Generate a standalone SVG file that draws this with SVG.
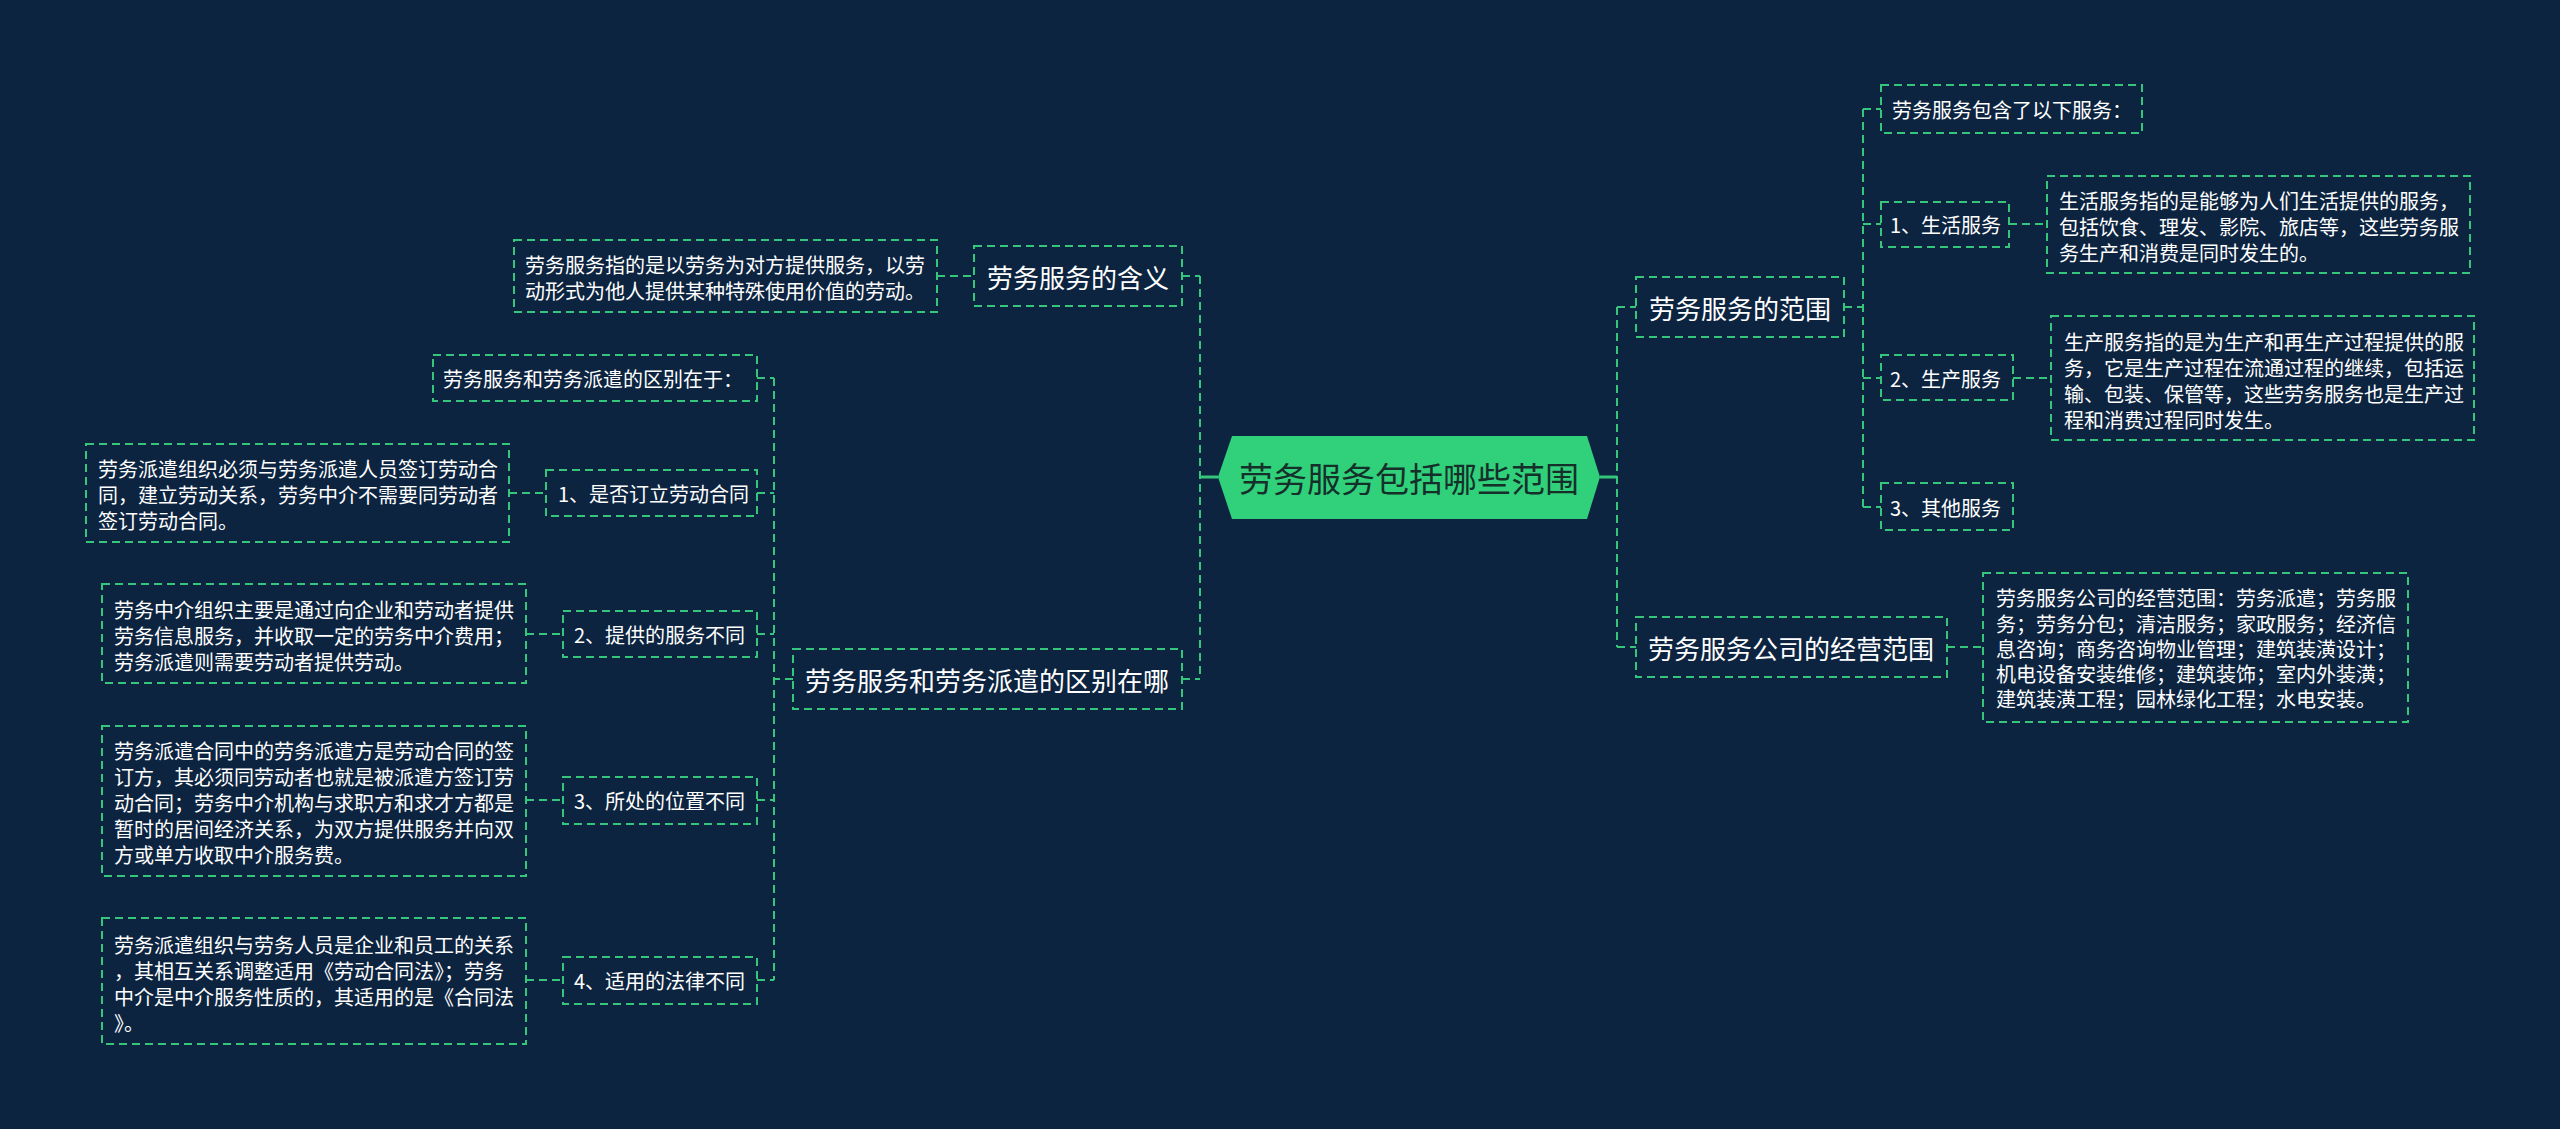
<svg xmlns="http://www.w3.org/2000/svg" width="2560" height="1129" viewBox="0 0 2560 1129">
<style>
.bg{fill:#0c2440}
.box{fill:none;stroke:#35c67c;stroke-width:2;stroke-dasharray:8 5}
.ln{fill:none;stroke:#35c67c;stroke-width:2;stroke-dasharray:8 5}
.sl{fill:none;stroke:#35c67c;stroke-width:3}
.t{font-family:"Noto Sans CJK SC","Noto Sans",sans-serif;fill:#ffffff;dominant-baseline:central}
.s20{font-size:20px}
.s26{font-size:26px}
.mid{text-anchor:middle}
</style>
<rect class="bg" x="0" y="0" width="2560" height="1129"/>

<g id="connectors">
  <path class="sl" d="M1218,477 H1200"/>
  <path class="ln" d="M1200,276 V679 M1182,276 H1200 M1182,679 H1200"/>
  <path class="ln" d="M937,276 H974"/>
  <path class="ln" d="M793,679 H774 M774,378 V980 M757,378 H774 M757,493 H774 M757,634 H774 M757,800 H774 M757,980 H774"/>
  <path class="ln" d="M509,493 H546 M526,634 H563 M526,800 H563 M526,980 H563"/>
  <path class="sl" d="M1600,477 H1617"/>
  <path class="ln" d="M1617,307 V647 M1617,307 H1636 M1617,647 H1636"/>
  <path class="ln" d="M1844,307 H1863 M1863,109 V507 M1863,109 H1881 M1863,224 H1881 M1863,378 H1881 M1863,507 H1881"/>
  <path class="ln" d="M2009,224 H2047 M2013,378 H2051 M1947,647 H1983"/>
</g>

<g id="root">
  <polygon points="1218,477 1232,436 1587,436 1600,477 1587,519 1232,519" fill="#31d07b"/>
  <text class="t mid" x="1409" y="477" style="font-size:34px;fill:#15302a">劳务服务包括哪些范围</text>
</g>

<g id="n_hanyi">
  <rect class="box" x="974" y="246" width="208" height="60"/>
  <text class="t s26 mid" x="1078" y="276">劳务服务的含义</text>
</g>
<g id="leaf_def">
  <rect class="box" x="514" y="240" width="423" height="72"/>
  <text class="t s20" x="525" y="264">劳务服务指的是以劳务为对方提供服务，以劳</text>
  <text class="t s20" x="525" y="290">动形式为他人提供某种特殊使用价值的劳动。</text>
</g>

<g id="n_quyu_main">
  <rect class="box" x="793" y="649" width="389" height="60"/>
  <text class="t s26 mid" x="987" y="679">劳务服务和劳务派遣的区别在哪</text>
</g>
<g id="n_quyu">
  <rect class="box" x="433" y="355" width="324" height="46"/>
  <text class="t s20" x="443" y="378">劳务服务和劳务派遣的区别在于：</text>
</g>

<g id="n1">
  <rect class="box" x="546" y="470" width="211" height="46"/>
  <text class="t s20" x="558" y="493">1、是否订立劳动合同</text>
</g>
<g id="leaf1">
  <rect class="box" x="86" y="444" width="423" height="98"/>
  <text class="t s20" x="98" y="468">劳务派遣组织必须与劳务派遣人员签订劳动合</text>
  <text class="t s20" x="98" y="494">同，建立劳动关系，劳务中介不需要同劳动者</text>
  <text class="t s20" x="98" y="520">签订劳动合同。</text>
</g>

<g id="n2">
  <rect class="box" x="563" y="611" width="194" height="46"/>
  <text class="t s20" x="574" y="634">2、提供的服务不同</text>
</g>
<g id="leaf2">
  <rect class="box" x="102" y="584" width="424" height="99"/>
  <text class="t s20" x="114" y="609">劳务中介组织主要是通过向企业和劳动者提供</text>
  <text class="t s20" x="114" y="635">劳务信息服务，并收取一定的劳务中介费用；</text>
  <text class="t s20" x="114" y="661">劳务派遣则需要劳动者提供劳动。</text>
</g>

<g id="n3">
  <rect class="box" x="563" y="777" width="194" height="47"/>
  <text class="t s20" x="574" y="800">3、所处的位置不同</text>
</g>
<g id="leaf3">
  <rect class="box" x="102" y="726" width="424" height="150"/>
  <text class="t s20" x="114" y="750">劳务派遣合同中的劳务派遣方是劳动合同的签</text>
  <text class="t s20" x="114" y="776">订方，其必须同劳动者也就是被派遣方签订劳</text>
  <text class="t s20" x="114" y="802">动合同；劳务中介机构与求职方和求才方都是</text>
  <text class="t s20" x="114" y="828">暂时的居间经济关系，为双方提供服务并向双</text>
  <text class="t s20" x="114" y="854">方或单方收取中介服务费。</text>
</g>

<g id="n4">
  <rect class="box" x="563" y="957" width="194" height="47"/>
  <text class="t s20" x="574" y="980">4、适用的法律不同</text>
</g>
<g id="leaf4">
  <rect class="box" x="102" y="918" width="424" height="126"/>
  <text class="t s20" x="114" y="944">劳务派遣组织与劳务人员是企业和员工的关系</text>
  <text class="t s20" x="114" y="970">，其相互关系调整适用《劳动合同法》；劳务</text>
  <text class="t s20" x="114" y="996">中介是中介服务性质的，其适用的是《合同法</text>
  <text class="t s20" x="114" y="1022">》。</text>
</g>

<g id="n_fanwei">
  <rect class="box" x="1636" y="277" width="208" height="60"/>
  <text class="t s26 mid" x="1740" y="307">劳务服务的范围</text>
</g>
<g id="n_baohan">
  <rect class="box" x="1881" y="85" width="261" height="48"/>
  <text class="t s20" x="1892" y="109">劳务服务包含了以下服务：</text>
</g>
<g id="n_shenghuo">
  <rect class="box" x="1881" y="202" width="128" height="45"/>
  <text class="t s20" x="1890" y="224">1、生活服务</text>
</g>
<g id="leaf_sh">
  <rect class="box" x="2047" y="176" width="423" height="97"/>
  <text class="t s20" x="2059" y="200">生活服务指的是能够为人们生活提供的服务，</text>
  <text class="t s20" x="2059" y="226">包括饮食、理发、影院、旅店等，这些劳务服</text>
  <text class="t s20" x="2059" y="252">务生产和消费是同时发生的。</text>
</g>
<g id="n_shengchan">
  <rect class="box" x="1881" y="355" width="132" height="45"/>
  <text class="t s20" x="1890" y="378">2、生产服务</text>
</g>
<g id="leaf_sc">
  <rect class="box" x="2051" y="316" width="423" height="124"/>
  <text class="t s20" x="2064" y="341">生产服务指的是为生产和再生产过程提供的服</text>
  <text class="t s20" x="2064" y="367">务，它是生产过程在流通过程的继续，包括运</text>
  <text class="t s20" x="2064" y="393">输、包装、保管等，这些劳务服务也是生产过</text>
  <text class="t s20" x="2064" y="419">程和消费过程同时发生。</text>
</g>
<g id="n_qita">
  <rect class="box" x="1881" y="483" width="132" height="47"/>
  <text class="t s20" x="1890" y="507">3、其他服务</text>
</g>

<g id="n_jingying">
  <rect class="box" x="1636" y="617" width="311" height="60"/>
  <text class="t s26 mid" x="1791" y="647">劳务服务公司的经营范围</text>
</g>
<g id="leaf_jy">
  <rect class="box" x="1983" y="573" width="425" height="149"/>
  <text class="t s20" x="1996" y="597">劳务服务公司的经营范围：劳务派遣；劳务服</text>
  <text class="t s20" x="1996" y="623">务；劳务分包；清洁服务；家政服务；经济信</text>
  <text class="t s20" x="1996" y="648">息咨询；商务咨询物业管理；建筑装潢设计；</text>
  <text class="t s20" x="1996" y="673">机电设备安装维修；建筑装饰；室内外装潢；</text>
  <text class="t s20" x="1996" y="698">建筑装潢工程；园林绿化工程；水电安装。</text>
</g>
</svg>
